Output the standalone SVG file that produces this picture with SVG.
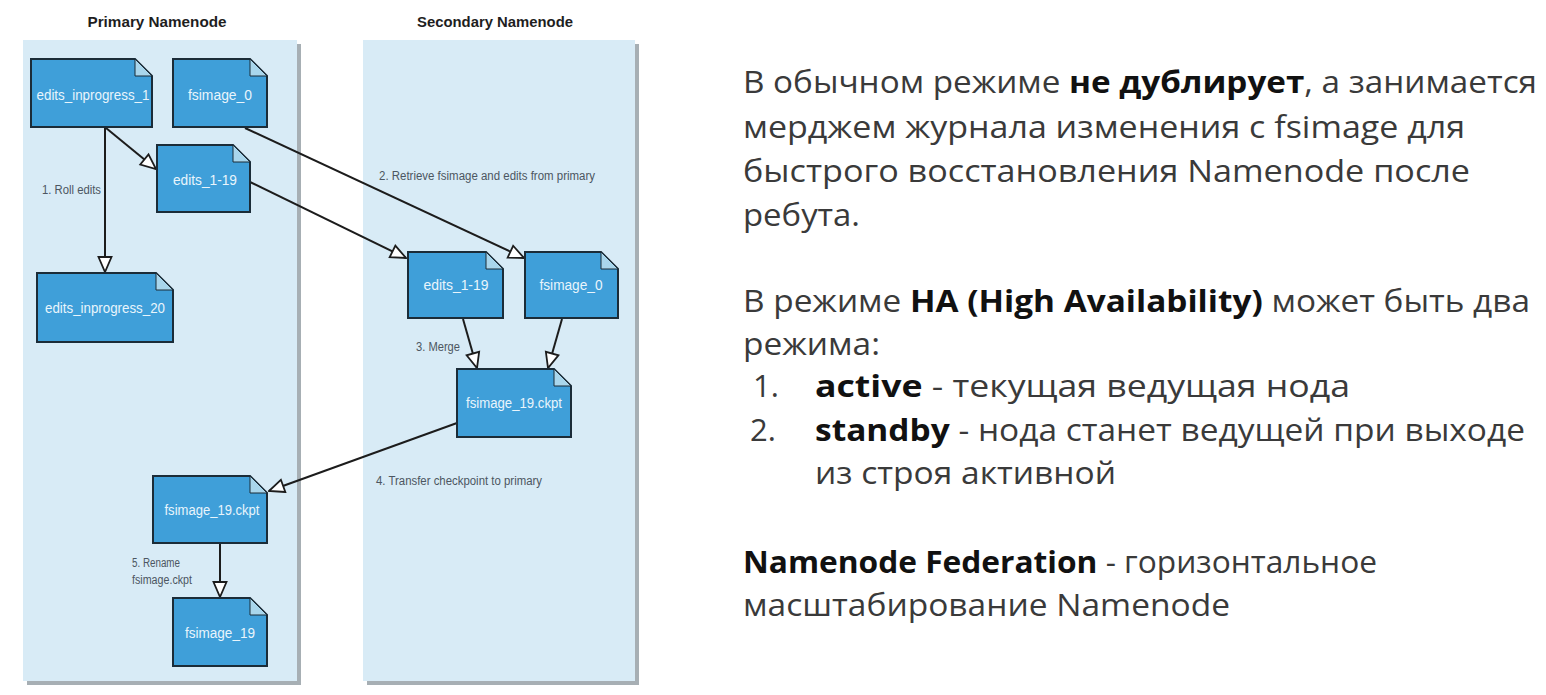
<svg xmlns="http://www.w3.org/2000/svg" width="1546" height="695" viewBox="0 0 1546 695">
  <style>
    .panel { fill: #d8ebf6; }
    .panel-shadow { fill: #a7afb4; }
    .title { font-family: "Liberation Sans", Arial, sans-serif; font-weight: bold; font-size: 14px; fill: #1e1e1e; text-anchor: middle; }
    .doc { fill: #3f9fd9; stroke: #1b2c38; stroke-width: 2; stroke-linejoin: miter; }
    .fold { fill: #a9d6ec; stroke: #1b2c38; stroke-width: 1; }
    .nlabel { font-family: "Liberation Sans", Arial, sans-serif; font-size: 14px; fill: #e9f5fc; text-anchor: middle; dominant-baseline: central; }
    .elabel { font-family: "Liberation Sans", Arial, sans-serif; font-size: 12px; fill: #4c5661; }
    .conn { fill: none; stroke: #1c1c1c; stroke-width: 2; }
    .body { font-family: "Open Sans", "Noto Sans", sans-serif; font-size: 31px; fill: #3a3a3a; }
    .b { font-weight: bold; fill: #111111; }
  </style>
  <defs>
    <marker id="open-arrow" markerUnits="userSpaceOnUse" markerWidth="18" markerHeight="18" viewBox="0 0 18 18" refX="17" refY="9" orient="auto">
      <path d="M2,2.5 L17,9 L2,15.5 Z" fill="#ffffff" stroke="#1c1c1c" stroke-width="1.8"/>
    </marker>
  </defs>

  <rect width="1546" height="695" fill="#ffffff"/>

  <!-- swimlanes -->
  <g id="lane-primary">
    <rect class="panel-shadow" x="27" y="44" width="274" height="641"/>
    <rect class="panel" x="23" y="40" width="274" height="641"/>
    <text class="title" x="157" y="27" textLength="139" lengthAdjust="spacingAndGlyphs">Primary Namenode</text>
  </g>
  <g id="lane-secondary">
    <rect class="panel-shadow" x="367" y="44" width="272" height="641"/>
    <rect class="panel" x="363" y="40" width="272" height="641"/>
    <text class="title" x="495" y="27" textLength="156" lengthAdjust="spacingAndGlyphs">Secondary Namenode</text>
  </g>

  <!-- connectors -->
  <g id="connectors">
    <line class="conn" x1="105" y1="128" x2="105" y2="272" marker-end="url(#open-arrow)"/>
    <line class="conn" x1="106" y1="128" x2="156" y2="169" marker-end="url(#open-arrow)"/>
    <line class="conn" x1="245" y1="128" x2="524" y2="258" marker-end="url(#open-arrow)"/>
    <line class="conn" x1="250" y1="182" x2="406" y2="258" marker-end="url(#open-arrow)"/>
    <line class="conn" x1="463" y1="319" x2="477" y2="368" marker-end="url(#open-arrow)"/>
    <line class="conn" x1="562" y1="319" x2="548" y2="368" marker-end="url(#open-arrow)"/>
    <line class="conn" x1="457" y1="423" x2="269" y2="491" marker-end="url(#open-arrow)"/>
    <line class="conn" x1="220" y1="544" x2="220" y2="597" marker-end="url(#open-arrow)"/>

    <text class="elabel" x="42" y="194" textLength="59" lengthAdjust="spacingAndGlyphs">1. Roll edits</text>
    <text class="elabel" x="379" y="180" textLength="216" lengthAdjust="spacingAndGlyphs">2. Retrieve fsimage and edits from primary</text>
    <text class="elabel" x="416" y="351" textLength="44" lengthAdjust="spacingAndGlyphs">3. Merge</text>
    <text class="elabel" x="376" y="485" textLength="166" lengthAdjust="spacingAndGlyphs">4. Transfer checkpoint to primary</text>
    <text class="elabel" x="132" y="567" textLength="48" lengthAdjust="spacingAndGlyphs">5. Rename</text>
    <text class="elabel" x="132" y="584" textLength="60" lengthAdjust="spacingAndGlyphs">fsimage.ckpt</text>
  </g>

  <!-- file nodes -->
  <g id="n-edits-inprogress-1">
    <path class="doc" d="M31,59 H135 L152,76 V127 H31 Z"/>
    <path class="fold" d="M135,59 L152,76 H135 Z"/>
    <text class="nlabel" x="93" y="95" textLength="113" lengthAdjust="spacingAndGlyphs">edits_inprogress_1</text>
  </g>
  <g id="n-fsimage-0-primary">
    <path class="doc" d="M173,59 H250 L267,76 V127 H173 Z"/>
    <path class="fold" d="M250,59 L267,76 H250 Z"/>
    <text class="nlabel" x="220" y="95" textLength="64" lengthAdjust="spacingAndGlyphs">fsimage_0</text>
  </g>
  <g id="n-edits-1-19-primary">
    <path class="doc" d="M157,145 H233 L250,162 V212 H157 Z"/>
    <path class="fold" d="M233,145 L250,162 H233 Z"/>
    <text class="nlabel" x="205" y="180" textLength="64" lengthAdjust="spacingAndGlyphs">edits_1-19</text>
  </g>
  <g id="n-edits-inprogress-20">
    <path class="doc" d="M37,273 H156 L173,290 V342 H37 Z"/>
    <path class="fold" d="M156,273 L173,290 H156 Z"/>
    <text class="nlabel" x="105" y="308" textLength="120" lengthAdjust="spacingAndGlyphs">edits_inprogress_20</text>
  </g>
  <g id="n-edits-1-19-secondary">
    <path class="doc" d="M408,252 H486 L503,269 V318 H408 Z"/>
    <path class="fold" d="M486,252 L503,269 H486 Z"/>
    <text class="nlabel" x="456" y="285" textLength="65" lengthAdjust="spacingAndGlyphs">edits_1-19</text>
  </g>
  <g id="n-fsimage-0-secondary">
    <path class="doc" d="M525,252 H601 L618,269 V318 H525 Z"/>
    <path class="fold" d="M601,252 L618,269 H601 Z"/>
    <text class="nlabel" x="571" y="285" textLength="63" lengthAdjust="spacingAndGlyphs">fsimage_0</text>
  </g>
  <g id="n-fsimage-19-ckpt-secondary">
    <path class="doc" d="M457,369 H554 L571,386 V437 H457 Z"/>
    <path class="fold" d="M554,369 L571,386 H554 Z"/>
    <text class="nlabel" x="514" y="403" textLength="96" lengthAdjust="spacingAndGlyphs">fsimage_19.ckpt</text>
  </g>
  <g id="n-fsimage-19-ckpt-primary">
    <path class="doc" d="M153,476 H250 L267,493 V543 H153 Z"/>
    <path class="fold" d="M250,476 L267,493 H250 Z"/>
    <text class="nlabel" x="212" y="510" textLength="95" lengthAdjust="spacingAndGlyphs">fsimage_19.ckpt</text>
  </g>
  <g id="n-fsimage-19">
    <path class="doc" d="M173,598 H250 L267,615 V666 H173 Z"/>
    <path class="fold" d="M250,598 L267,615 H250 Z"/>
    <text class="nlabel" x="220" y="633" textLength="70" lengthAdjust="spacingAndGlyphs">fsimage_19</text>
  </g>

  <!-- explanatory text -->
  <g id="notes">
    <text class="body" x="743" y="93" textLength="794" lengthAdjust="spacingAndGlyphs">В обычном режиме <tspan class="b">не дублирует</tspan>, а занимается</text>
    <text class="body" x="743" y="138" textLength="722" lengthAdjust="spacingAndGlyphs">мерджем журнала изменения с fsimage для</text>
    <text class="body" x="743" y="182" textLength="727" lengthAdjust="spacingAndGlyphs">быстрого восстановления Namenode после</text>
    <text class="body" x="743" y="226" textLength="117" lengthAdjust="spacingAndGlyphs">ребута.</text>

    <text class="body" x="743" y="312" textLength="787" lengthAdjust="spacingAndGlyphs">В режиме <tspan class="b">HA (High Availability)</tspan> может быть два</text>
    <text class="body" x="743" y="355" textLength="137" lengthAdjust="spacingAndGlyphs">режима:</text>
    <text class="body" x="753" y="397">1.</text>
    <text class="body" x="815" y="397" textLength="535" lengthAdjust="spacingAndGlyphs"><tspan class="b">active</tspan> - текущая ведущая нода</text>
    <text class="body" x="750" y="441">2.</text>
    <text class="body" x="815" y="441" textLength="710" lengthAdjust="spacingAndGlyphs"><tspan class="b">standby</tspan> - нода станет ведущей при выходе</text>
    <text class="body" x="815" y="484" textLength="301" lengthAdjust="spacingAndGlyphs">из строя активной</text>

    <text class="body" x="743" y="573" textLength="634" lengthAdjust="spacingAndGlyphs"><tspan class="b">Namenode Federation</tspan> - горизонтальное</text>
    <text class="body" x="743" y="616" textLength="487" lengthAdjust="spacingAndGlyphs">масштабирование Namenode</text>
  </g>
</svg>
